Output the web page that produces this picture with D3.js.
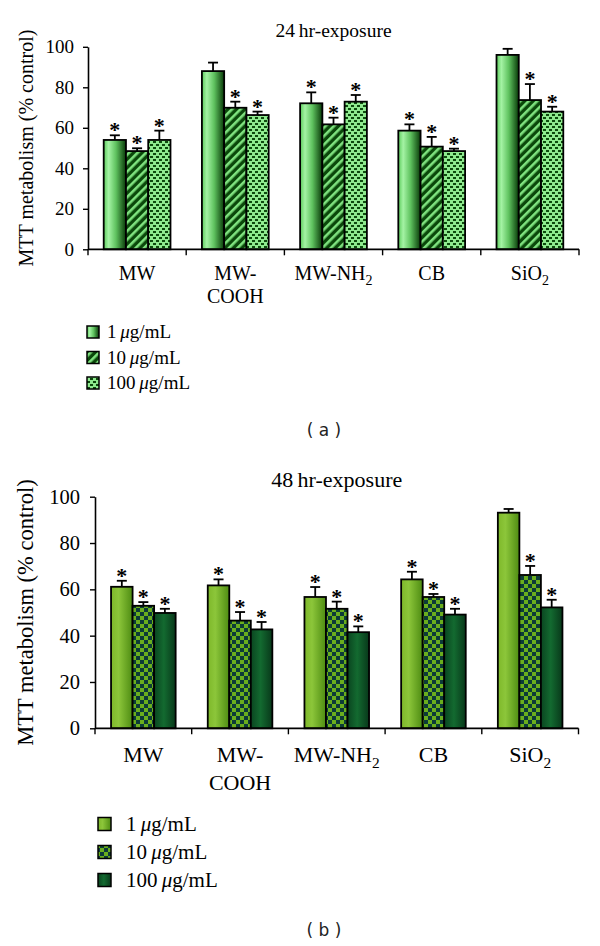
<!DOCTYPE html>
<html><head><meta charset="utf-8">
<script src="https://cdn.jsdelivr.net/npm/d3@7"></script>
<style>body{margin:0;background:#fff}svg{display:block}</style>
</head><body><svg id="c" width="600" height="946"></svg>
<script>
// ---------- data ----------
const categories = ["MW", "MW-COOH", "MW-NH2", "CB", "SiO2"];
const seriesNames = ["1 μg/mL", "10 μg/mL", "100 μg/mL"];
const yTicks = [0, 20, 40, 60, 80, 100];

// 24 hr exposure (mean, SD)
const mean24_1   = [54.0, 88.0, 72.1, 58.6, 96.0];
const sd24_1     = [2.3, 4.2, 5.4, 3.1, 3.0];
const mean24_10  = [48.5, 69.9, 61.7, 50.7, 73.7];
const sd24_10    = [1.4, 3.0, 3.3, 4.8, 7.9];
const mean24_100 = [54.0, 66.3, 72.9, 48.5, 68.0];
const sd24_100   = [4.6, 1.7, 3.3, 1.2, 2.4];
const sig24_1    = [1, 0, 1, 1, 0];
const sig24_10   = [1, 1, 1, 1, 1];
const sig24_100  = [1, 1, 1, 1, 1];

// 48 hr exposure (mean, SD)
const mean48_1   = [61.1, 61.7, 56.7, 64.3, 93.1];
const sd48_1     = [2.6, 2.6, 4.3, 3.3, 1.6];
const mean48_10  = [52.9, 46.5, 51.6, 56.7, 66.2];
const sd48_10    = [1.6, 3.7, 3.1, 1.3, 3.9];
const mean48_100 = [49.8, 42.7, 41.5, 49.1, 52.2];
const sd48_100   = [1.8, 3.2, 2.5, 2.5, 3.3];
const sig48_1    = [1, 1, 1, 1, 0];
const sig48_10   = [1, 1, 1, 1, 1];
const sig48_100  = [1, 1, 1, 1, 1];

// ---------- drawing ----------
const svg = d3.select("#c");
const defs = svg.append("defs");
const SERIF = "'Liberation Serif','Times New Roman',serif";

function grad(id, stops) {
  const g = defs.append("linearGradient").attr("id", id).attr("x1", "0").attr("x2", "1").attr("y1", "0").attr("y2", "0");
  stops.forEach(s => g.append("stop").attr("offset", s[0]).attr("stop-color", s[1]));
}
grad("g24a", [["0%", "#5ccc5c"], ["22%", "#a4f3a4"], ["55%", "#5fc25f"], ["100%", "#083a08"]]);
grad("g48a", [["0%", "#7eb82a"], ["35%", "#8cc63a"], ["100%", "#4e8c12"]]);
grad("g48c", [["0%", "#0a4520"], ["45%", "#136a30"], ["100%", "#08381a"]]);

const ps = defs.append("pattern").attr("id", "p24b").attr("patternUnits", "userSpaceOnUse")
  .attr("width", 6).attr("height", 6).attr("patternTransform", "rotate(45)");
ps.append("rect").attr("width", 6).attr("height", 6).attr("fill", "#0a480a");
ps.append("rect").attr("width", 2.6).attr("height", 6).attr("fill", "#7fe27f");
const pd = defs.append("pattern").attr("id", "p24c").attr("patternUnits", "userSpaceOnUse")
  .attr("width", 6).attr("height", 6);
pd.append("rect").attr("width", 6).attr("height", 6).attr("fill", "#8eea8e");
pd.append("rect").attr("x", 0).attr("y", 0).attr("width", 3).attr("height", 2).attr("fill", "#0d4a0d");
pd.append("rect").attr("x", 3).attr("y", 3).attr("width", 3).attr("height", 2).attr("fill", "#0d4a0d");
const pc = defs.append("pattern").attr("id", "p48b").attr("patternUnits", "userSpaceOnUse")
  .attr("width", 8).attr("height", 8);
pc.append("rect").attr("width", 8).attr("height", 8).attr("fill", "#6aae1e");
pc.append("rect").attr("x", 0).attr("y", 0).attr("width", 4).attr("height", 4).attr("fill", "#0c3b38");
pc.append("rect").attr("x", 4).attr("y", 4).attr("width", 4).attr("height", 4).attr("fill", "#0c3b38");

function catLabel(sel, c, x, y, fs, lh) {
  if (c === "MW-COOH") {
    sel.append("text").attr("x", x).attr("y", y).attr("text-anchor", "middle").attr("font-size", fs).attr("font-family", SERIF).text("MW-");
    sel.append("text").attr("x", x).attr("y", y + lh).attr("text-anchor", "middle").attr("font-size", fs).attr("font-family", SERIF).text("COOH");
  } else {
    const t = sel.append("text").attr("x", x).attr("y", y).attr("text-anchor", "middle").attr("font-size", fs).attr("font-family", SERIF);
    const m = c.match(/^(.*?)(\d)$/);
    if (m) {
      t.append("tspan").text(m[1]);
      t.append("tspan").attr("font-size", fs * 0.7).attr("dy", fs * 0.25).text(m[2]);
    } else t.text(c);
  }
}

function chart(o) {
  const g = svg.append("g");
  const x0 = d3.scaleBand().domain(categories).range([o.left, o.right]);
  const step = x0.step();
  const x1 = d3.scaleBand().domain(d3.range(3)).range([step * o.gpad, step * (1 - o.gpad)]);
  const y = d3.scaleLinear().domain([0, 100]).range([o.y0, o.y100]);

  o.series.forEach((s, si) => {
    categories.forEach((c, ci) => {
      const bx = x0(c) + x1(si), bw = x1.bandwidth();
      const v = s.mean[ci], e = v + s.sd[ci];
      g.append("rect").attr("x", bx).attr("y", y(v)).attr("width", bw).attr("height", y(0) - y(v))
        .attr("fill", s.fill).attr("stroke", "#000").attr("stroke-width", 1.8);
      const cx = bx + bw / 2;
      g.append("line").attr("x1", cx).attr("x2", cx).attr("y1", y(v)).attr("y2", y(e)).attr("stroke", "#000").attr("stroke-width", 1.8);
      g.append("line").attr("x1", cx - 5).attr("x2", cx + 5).attr("y1", y(e)).attr("y2", y(e)).attr("stroke", "#000").attr("stroke-width", 1.8);
      if (s.sig[ci]) {
        g.append("text").attr("x", cx).attr("y", y(e) - 4 + 0.27 * o.starFs).attr("text-anchor", "middle")
          .attr("font-size", o.starFs).attr("font-weight", "bold").attr("font-family", SERIF).text("*");
      }
    });
  });

  const ya = g.append("g").attr("transform", `translate(${o.left},0)`)
    .call(d3.axisLeft(y).tickValues(yTicks).tickSize(5).tickSizeOuter(0).tickPadding(o.tickPad));
  ya.select(".domain").attr("stroke", "#000").attr("stroke-width", 1.6);
  ya.selectAll(".tick line").attr("stroke", "#000").attr("stroke-width", 1.4);
  ya.selectAll("text").attr("font-size", o.tickFs).attr("font-family", SERIF).attr("fill", "#000");

  g.append("line").attr("x1", o.left).attr("x2", o.right).attr("y1", y(0)).attr("y2", y(0)).attr("stroke", "#000").attr("stroke-width", 1.8);
  categories.concat([null]).forEach((c) => {
    const tx = c ? x0(c) : x0(categories[categories.length - 1]) + step;
    g.append("line").attr("x1", tx).attr("x2", tx).attr("y1", y(0)).attr("y2", y(0) + 6).attr("stroke", "#000").attr("stroke-width", 1.4);
  });
  categories.forEach(c => catLabel(g, c, x0(c) + step / 2, o.labY, o.labFs, o.labLh));

  g.append("text").attr("x", (o.left + o.right) / 2).attr("y", o.titleY).attr("text-anchor", "middle")
    .attr("font-size", o.titleFs).attr("font-family", SERIF).text(o.title);
  g.append("text").attr("transform", `translate(${o.ylabX},${(o.y0 + o.y100) / 2}) rotate(-90)`)
    .attr("text-anchor", "middle").attr("font-size", o.ylabFs).attr("font-family", SERIF)
    .text("MTT metabolism (% control)");

  o.series.forEach((s, si) => {
    const ly = o.legY + si * o.legDy;
    g.append("rect").attr("x", o.legX).attr("y", ly - o.sw / 2).attr("width", o.sw).attr("height", o.sw)
      .attr("fill", s.fill).attr("stroke", "#000").attr("stroke-width", 1.5);
    const t = g.append("text").attr("x", o.legX + o.sw + o.legGap).attr("y", ly + o.legFs * 0.33)
      .attr("font-size", o.legFs).attr("font-family", SERIF);
    const parts = seriesNames[si].split(" ");
    t.append("tspan").text(parts[0] + "\u2009");
    t.append("tspan").attr("font-style", "italic").text(parts[1].slice(0, 1));
    t.append("tspan").text(parts[1].slice(1));
  });

  g.append("text").attr("x", o.panelX).attr("y", o.panelY).attr("text-anchor", "middle")
    .attr("font-size", 17).attr("font-family", "'DejaVu Sans',sans-serif").attr("fill", "#222")
    .text(o.panel);
}

chart({
  left: 88, right: 579, y0: 249.3, y100: 46.8, gpad: 0.16,
  series: [
    {mean: mean24_1, sd: sd24_1, sig: sig24_1, fill: "url(#g24a)"},
    {mean: mean24_10, sd: sd24_10, sig: sig24_10, fill: "url(#p24b)"},
    {mean: mean24_100, sd: sd24_100, sig: sig24_100, fill: "url(#p24c)"}
  ],
  starFs: 22, tickFs: 19, tickPad: 9, labY: 280, labFs: 20, labLh: 23,
  title: "24\u2009hr-exposure", titleY: 37, titleFs: 19.5, ylabX: 33, ylabFs: 20,
  legX: 87, legY: 332, legDy: 25.5, sw: 12, legGap: 8, legFs: 19,
  panel: "( a )", panelX: 324, panelY: 436
});

chart({
  left: 95, right: 578.5, y0: 728.3, y100: 496.7, gpad: 0.166,
  series: [
    {mean: mean48_1, sd: sd48_1, sig: sig48_1, fill: "url(#g48a)"},
    {mean: mean48_10, sd: sd48_10, sig: sig48_10, fill: "url(#p48b)"},
    {mean: mean48_100, sd: sd48_100, sig: sig48_100, fill: "url(#g48c)"}
  ],
  starFs: 22, tickFs: 20.5, tickPad: 10, labY: 762, labFs: 22, labLh: 28,
  title: "48\u2009hr-exposure", titleY: 487, titleFs: 22, ylabX: 33, ylabFs: 22.5,
  legX: 98, legY: 824, legDy: 28, sw: 13, legGap: 15, legFs: 21,
  panel: "( b )", panelX: 324, panelY: 936
});
</script></body></html>
